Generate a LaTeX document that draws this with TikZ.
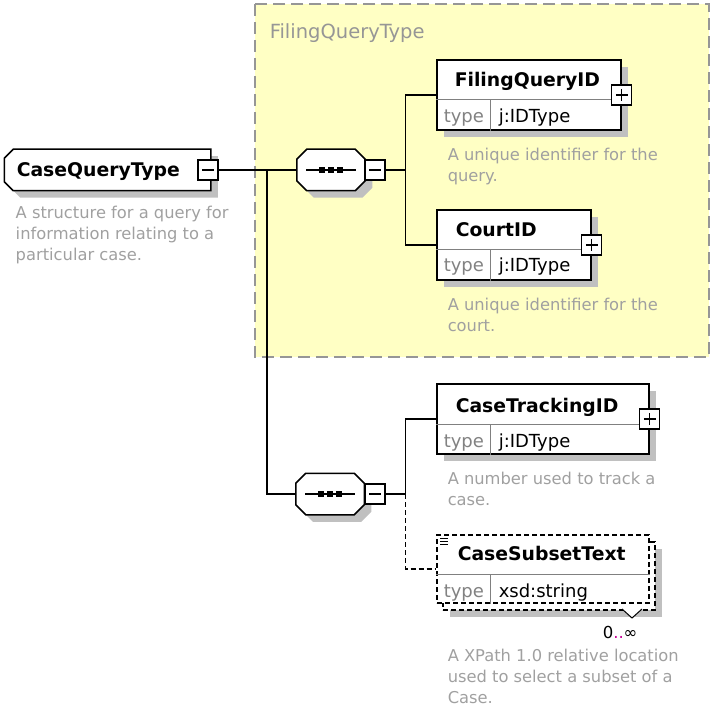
\documentclass[tikz,border=0pt]{standalone}
\usepackage{fontspec}
\setmainfont{DejaVu Sans}
\usetikzlibrary{positioning,shadows}

\definecolor{groupfill}{RGB}{255,255,196}
\definecolor{groupline}{RGB}{150,150,150}
\definecolor{shadowgray}{RGB}{192,192,192}
\definecolor{descgray}{RGB}{160,160,160}
\definecolor{typegray}{RGB}{130,130,130}
\definecolor{rangepink}{RGB}{200,0,150}

% outline with cut corners: node, left cut, right cut
\newcommand{\cutpath}[3]{([xshift=#2]#1.north west) -- ([xshift=-#3]#1.north east) -- ([yshift=-#3]#1.north east)
  -- ([yshift=#3]#1.south east) -- ([xshift=-#3]#1.south east) -- ([xshift=#2]#1.south west)
  -- ([yshift=#2]#1.south west) -- ([yshift=-#2]#1.north west) -- cycle}

\tikzset{
  boxshadow/.style={drop shadow={fill=shadowgray,opacity=1,shadow xshift=7pt,shadow yshift=-7pt}},
  shadowfill/.style={fill=shadowgray,transform canvas={shift={(7pt,-7pt)}}},
  elem/.style={draw,fill=white,rectangle,minimum height=70pt,inner sep=0pt,boxshadow},
  optbox/.style={draw,fill=white,rectangle,minimum width=212pt,minimum height=68pt,inner sep=0pt,dash pattern=on 5pt off 3pt},
  holder/.style={rectangle,inner sep=0pt},
  minusbox/.style={draw,fill=white,minimum size=20pt,inner sep=0pt,line width=1.2pt,
    path picture={\draw[line width=1.2pt] ([xshift=-6pt]path picture bounding box.center) -- ([xshift=6pt]path picture bounding box.center);}},
  plusbox/.style={draw,fill=white,minimum size=20pt,inner sep=0pt,line width=1.2pt,
    path picture={\draw[line width=1.2pt] ([xshift=-6pt]path picture bounding box.center) -- ([xshift=6pt]path picture bounding box.center)
      ([yshift=-6pt]path picture bounding box.center) -- ([yshift=6pt]path picture bounding box.center);}},
  sepline/.style={draw=gray,line width=1pt},
  title/.style={anchor=base west,inner sep=0pt,font=\bfseries\fontsize{18.8}{22}\selectfont},
  desc/.style={anchor=north west,inner sep=0pt,align=left,text=descgray,font=\fontsize{16.3}{21}\selectfont},
  typelbl/.style={anchor=base west,inner sep=0pt,text=typegray,font=\fontsize{18}{22}\selectfont},
  typeval/.style={anchor=base west,inner sep=0pt,font=\fontsize{18}{22}\selectfont}
}

\begin{document}
\begin{tikzpicture}[x=1pt,y=-1pt,line width=1.5pt]
  \useasboundingbox (0,0) rectangle (711,708);

  % group
  \draw[fill=groupfill,draw=groupline,dash pattern=on 12pt off 6pt,line width=1.5pt] (255,4) rectangle (709,357);
  \node[anchor=base west,inner sep=0pt,text=groupline,font=\fontsize{19.5}{22}\selectfont] (grouptitle) at (269,39) {FilingQueryType};

  % complex type
  \node[holder,minimum width=205pt,minimum height=40pt] (cqt) at (107.5,170) {};
  \fill[shadowfill] \cutpath{cqt}{9pt}{0pt};
  \draw[fill=white] \cutpath{cqt}{9pt}{0pt};
  \node[title] (cqttitle) at (16,177) {CaseQueryType};
  \node[minusbox] (cqtminus) at (208,170) {};
  \node[desc] (cqtdesc) at (15,205) {A structure for a query for\\information relating to a\\particular case.};

  % sequences
  \node[holder,minimum width=67pt,minimum height=40pt] (seqa) at (331,170) {};
  \node[holder,minimum width=67pt,minimum height=40pt] (seqb) at (330,494) {};
  \foreach \s in {seqa,seqb}{
    \fill[shadowfill] \cutpath{\s}{10pt}{10pt};
    \draw[fill=white] \cutpath{\s}{10pt}{10pt};
    \draw ([xshift=-25pt]\s.center) -- ([xshift=25pt]\s.center);
    \foreach \d in {-9,0,9}
      \fill ([xshift=\d pt]\s.center) ++(-3,-3) rectangle ++(6,6);
  }
  \node[minusbox] (seqaminus) at (375,170) {};
  \node[minusbox] (seqbminus) at (375,494) {};

  % elements
  \node[elem,minimum width=184pt] (fqid) at (529,95) {};
  \node[elem,minimum width=154pt] (courtid) at (514,245) {};
  \node[elem,minimum width=212pt] (ctrk) at (543,419) {};
  \node[optbox,boxshadow] (cstback) at (549,576) {};
  \node[optbox] (cst) at (543,569) {};
  \foreach \e in {fqid,courtid,ctrk,cst}{
    \draw[sepline] ([yshift=-5pt]\e.west) -- ([yshift=-5pt]\e.east);
    \draw[sepline] ([xshift=54pt,yshift=-5pt]\e.west) -- ([xshift=54pt]\e.south west);
  }
  \foreach \e in {fqid,courtid,ctrk}
    \node[plusbox] (\e plus) at (\e.east) {};

  \node[title] (fqidtitle) at (454,87) {FilingQueryID};
  \node[typelbl] (fqidtype) at (443,123) {type};
  \node[typeval] (fqidval) at (498,123) {j:IDType};
  \node[desc] (fqiddesc) at (447,147) {A unique identifier for the\\query.};

  \node[title] (courtidtitle) at (455,237) {CourtID};
  \node[typelbl] (courtidtype) at (443,272) {type};
  \node[typeval] (courtidval) at (498,272) {j:IDType};
  \node[desc] (courtiddesc) at (447,297) {A unique identifier for the\\court.};

  \node[title] (ctrktitle) at (455,412) {CaseTrackingID};
  \node[typelbl] (ctrktype) at (443,447) {type};
  \node[typeval] (ctrkval) at (498,447) {j:IDType};
  \node[desc] (ctrkdesc) at (447,471) {A number used to track a\\case.};

  \node[title] (csttitle) at (457,560) {CaseSubsetText};
  \node[typelbl] (csttype) at (443,597) {type};
  \node[typeval] (cstval) at (498,597) {xsd:string};
  \foreach \yy in {538,541,544}
    \draw[line width=0.8pt] (440,\yy) -- (448,\yy);
  \draw[fill=white,line width=1pt] (622,609) -- (632,618) -- (642,609);
  \node[anchor=base west,inner sep=0pt,font=\fontsize{16.5}{20}\selectfont] (cstrange) at (602,638) {0\textcolor{rangepink}{..}∞};
  \node[desc] (cstdesc) at (447,648) {A XPath 1.0 relative location\\used to select a subset of a\\Case.};

  % connectors
  \coordinate (bus) at (267,170);
  \draw (cqtminus.east) -- (seqa.west);
  \draw (bus) |- (seqb.west);
  \draw (seqaminus.east) -- ++(20,0) coordinate (forka);
  \draw (fqid.west) -| (forka) |- (courtid.west);
  \draw (seqbminus.east) -- ++(20,0) coordinate (forkb);
  \draw (ctrk.west) -| (forkb);
  \draw[dash pattern=on 5pt off 3pt] (forkb) |- (cst.west);
\end{tikzpicture}
\end{document}
